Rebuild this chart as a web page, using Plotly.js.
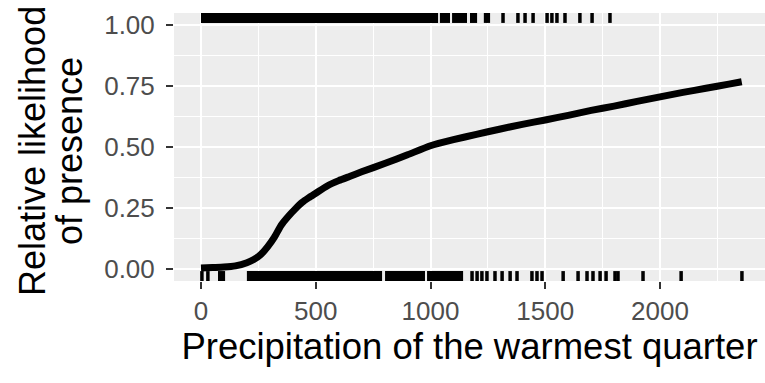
<!DOCTYPE html>
<html>
<head>
<meta charset="utf-8">
<script src="https://cdn.plot.ly/plotly-3.0.1.min.js"></script>
<style>html,body{margin:0;padding:0;background:#fff;}#chart{width:765px;height:383px;}</style>
</head>
<body>
<div id="chart"></div>
<script>
// Fitted response curve (precipitation vs relative likelihood)
const curveX = [0, 50, 100, 150, 200, 230, 260, 290, 320, 350, 380, 410, 440, 470, 500, 550, 600, 650, 700, 800, 900, 1000, 1100, 1200, 1300, 1400, 1500, 1600, 1700, 1800, 1900, 2000, 2100, 2200, 2300, 2356];
const curveY = [0.003, 0.005, 0.007, 0.012, 0.025, 0.038, 0.058, 0.09, 0.13, 0.18, 0.215, 0.245, 0.272, 0.292, 0.31, 0.34, 0.362, 0.38, 0.398, 0.432, 0.468, 0.505, 0.53, 0.552, 0.573, 0.593, 0.611, 0.63, 0.65, 0.668, 0.687, 0.706, 0.724, 0.741, 0.758, 0.768];

// Presence records (rug along the top): dense runs and single records
const presenceRunStart = [0, 1041, 1094, 1172];
const presenceRunEnd = [1033, 1085, 1159, 1203];
const presenceMarks = [1240, 1252, 1316, 1381, 1412, 1447, 1508, 1529, 1551, 1586, 1651, 1704, 1782];

// Absence records (rug along the bottom): dense runs and single records
const absenceRunStart = [74, 200, 802, 985];
const absenceRunEnd = [105, 789, 976, 1142];
const absenceMarks = [4, 30, 1181, 1203, 1224, 1246, 1281, 1312, 1347, 1377, 1442, 1464, 1486, 1578, 1643, 1682, 1708, 1739, 1765, 1804, 1817, 1926, 2092, 2357];

const xTickVals = [0, 500, 1000, 1500, 2000];
const yTickVals = [0, 0.25, 0.5, 0.75, 1];
const yTickText = ['0.00', '0.25', '0.50', '0.75', '1.00'];

const RUG = 0.037;
function runTrace(starts, ends, yMid) {
  const x = [], y = [];
  starts.forEach((s, i) => { x.push(s, ends[i], null); y.push(yMid, yMid, null); });
  return {x, y, yaxis: 'y2', mode: 'lines', line: {color: '#000', width: 10}, hoverinfo: 'skip', showlegend: false};
}
function markTrace(vals, y0, y1) {
  const x = [], y = [];
  vals.forEach(v => { x.push(v, v, null); y.push(y0, y1, null); });
  return {x, y, yaxis: 'y2', mode: 'lines', line: {color: '#000', width: 3.5}, hoverinfo: 'skip', showlegend: false};
}

const traces = [
  runTrace(presenceRunStart, presenceRunEnd, 1 - RUG / 2),
  markTrace(presenceMarks, 1 - RUG, 1),
  runTrace(absenceRunStart, absenceRunEnd, RUG / 2),
  markTrace(absenceMarks, 0, RUG),
  {x: curveX, y: curveY, mode: 'lines', line: {color: '#000', width: 7, shape: 'spline', smoothing: 0.6}, hoverinfo: 'skip', showlegend: false}
];

const tickFont = {family: 'Liberation Sans, Arial, sans-serif', size: 26, color: '#4D4D4D'};
const layout = {
  width: 765, height: 383,
  margin: {l: 174, r: 0, t: 13, b: 102},
  paper_bgcolor: '#FFFFFF',
  plot_bgcolor: '#EDEDED',
  showlegend: false,
  xaxis: {
    range: [-117.6, 2457.5],
    tickmode: 'array', tickvals: xTickVals, ticktext: xTickVals.map(String),
    ticks: 'outside', ticklen: 7, tickwidth: 2, tickcolor: '#333333',
    tickfont: tickFont,
    showgrid: true, gridcolor: '#FFFFFF', gridwidth: 2,
    minor: {dtick: 250, tick0: 0, showgrid: true, gridcolor: '#FFFFFF', gridwidth: 1, ticks: ''},
    zeroline: false, showline: false,
    title: {text: 'Precipitation of the warmest quarter', font: {family: 'Liberation Sans, Arial, sans-serif', size: 36.5, color: '#000'}, standoff: 5}
  },
  yaxis: {
    range: [-0.05, 1.05],
    tickmode: 'array', tickvals: yTickVals, ticktext: yTickText,
    ticks: 'outside', ticklen: 7, tickwidth: 2, tickcolor: '#333333',
    tickfont: tickFont, ticklabelstandoff: 6,
    showgrid: true, gridcolor: '#FFFFFF', gridwidth: 2,
    minor: {dtick: 0.125, tick0: 0, showgrid: true, gridcolor: '#FFFFFF', gridwidth: 1, ticks: ''},
    zeroline: false, showline: false
  },
  yaxis2: {range: [0, 1], overlaying: 'y', visible: false, fixedrange: true},
  annotations: [
    {text: 'Relative likelihood', xref: 'paper', yref: 'paper', x: 0, y: 0.5, xanchor: 'center', yanchor: 'middle', xshift: -174 + 32, yshift: -4, textangle: -90, showarrow: false,
     font: {family: 'Liberation Sans, Arial, sans-serif', size: 36, color: '#000'}},
    {text: 'of presence', xref: 'paper', yref: 'paper', x: 0, y: 0.5, xanchor: 'center', yanchor: 'middle', xshift: -174 + 69, yshift: -4, textangle: -90, showarrow: false,
     font: {family: 'Liberation Sans, Arial, sans-serif', size: 36, color: '#000'}}
  ]
};

Plotly.newPlot('chart', traces, layout, {staticPlot: true, displayModeBar: false});
</script>
</body>
</html>
